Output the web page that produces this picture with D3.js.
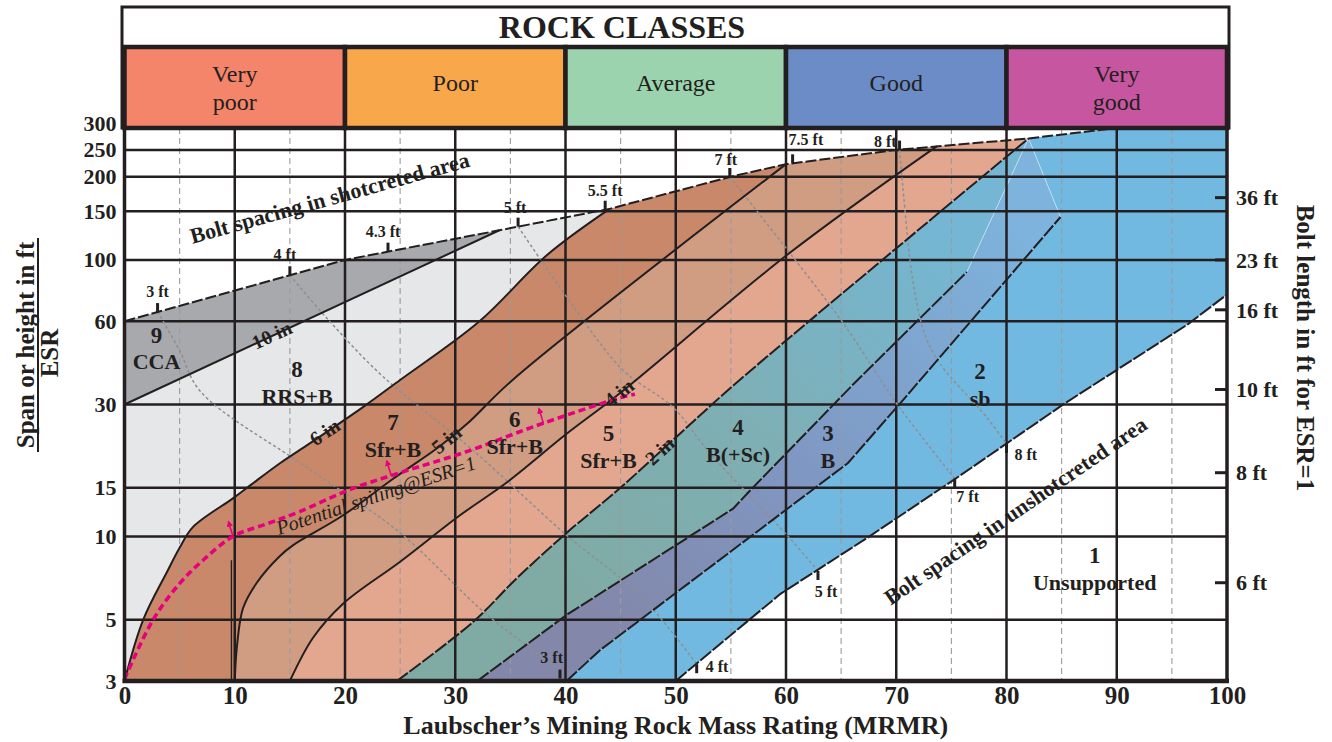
<!DOCTYPE html>
<html>
<head>
<meta charset="utf-8">
<script src="https://cdn.jsdelivr.net/npm/d3@7"></script>
<style>
  body { margin: 0; background: #fff; }
  svg { display: block; font-family: "Liberation Serif", "Times New Roman", serif; }
</style>
</head>
<body>
<svg id="chart" width="1332" height="742"></svg>
<script>
// ---------------- data ----------------
const mrmrTicks = [0, 10, 20, 30, 40, 50, 60, 70, 80, 90, 100];
const mrmrMinorTicks = [5, 15, 25, 35, 45, 55, 65, 75, 85, 95];
const spanTicks = [3, 5, 10, 15, 30, 60, 100, 150, 200, 250, 300];

const classNames = [["Very", "poor"], ["Poor"], ["Average"], ["Good"], ["Very", "good"]];
const classBreaks = [0, 20, 40, 60, 80, 100];
const classColors = ["#f4846a", "#f9a74b", "#9bd3ae", "#6b8cc6", "#c6569f"];

// bolt length (ft, ESR = 1) against span/ESR
const boltLengthFt = [36, 23, 16, 10, 8, 6];
const boltLengthSpan = [168, 100, 66, 34, 17, 6.8];

// boundary lines as [MRMR, span/ESR]
const shotcreteLimit = [[0, 60], [20, 100], [34, 128], [44, 153], [55, 200], [60, 222], [70, 250], [82, 275], [90, 300]];
const line10in = [[0, 30], [34, 128]];
const line6in = [[0, 3], [1.7, 5], [3.9, 7.5], [5, 9.1], [6.2, 10.8], [9.8, 13.7], [11.4, 15.3], [14.1, 18.4],
                 [16.8, 21.7], [21.6, 29.3], [25, 36.8], [32.2, 60], [38.3, 104], [44, 153]];
const line5in = [[10, 3], [10.2, 4], [10.75, 5.5], [12, 6.8], [14.1, 8.5], [15.3, 9.3], [19.8, 11.9], [24.4, 16.2],
                 [28.6, 21.2], [31.1, 25.6], [35.2, 36.8], [60, 222]];
const line4in = [[15, 3], [17.1, 4.3], [19.8, 5.7], [25, 8.1], [30.4, 11.9], [34.7, 15.7], [40.1, 23.5],
                 [44.7, 32.4], [60.2, 105], [73.7, 258]];
const line2in = [[24.7, 3], [31.6, 4.9], [35.6, 7.07], [40.1, 10.3], [44.9, 14.9], [50.1, 23], [55.8, 36.8], [82, 275]];
const boltLimit4 = [[32, 3], [40.1, 5.2], [55.2, 12.6], [56.7, 14.6], [66.1, 35.5], [76.4, 90.4]];
const boltLimit3 = [[40.1, 3], [43.1, 3.87], [65.6, 18.4], [70.3, 30.1], [84.9, 143]];
const unshotcreteLimit = [[50, 3], [59.5, 6.2], [67.4, 9.9], [75.4, 16.2], [85.3, 30.3], [96.5, 58.7], [100, 75]];
const splitLine = [[9.7, 3], [9.7, 8.2]];

// potential spiling line (ESR = 1)
const spilingLine = [[0, 3.05], [2.6, 5], [5.03, 6.78], [7.12, 8.2], [9.84, 10], [12.9, 11.1], [15.9, 12.3],
                     [20.5, 14.8], [25, 17], [31.1, 20.3], [37.05, 24.9], [44.9, 31.7], [46.3, 32.7]];
const spilingArrowsMRMR = [9.84, 24.2, 38];

// bolt spacing contours
const spacingLabels = ["3 ft", "4 ft", "5 ft", "7 ft", "8 ft"];
const spacing3ft = [[3, 65], [5, 47], [6.9, 33.4], [16.8, 17.5], [25, 10.3], [32.9, 5.2], [39.5, 3.3]];
const spacing4ft = [[15, 88], [18.6, 60], [23.4, 38], [31.3, 21], [40.1, 10.1], [46.8, 6.1], [51.9, 3.45]];
const spacing5ft = [[35.7, 132], [40.7, 68], [45.2, 40], [49.75, 29.3], [53.1, 20], [60.1, 10.1], [62.9, 7.5]];
const spacing7ft = [[54.9, 200], [60.1, 109], [65.2, 59], [70.1, 30], [75.3, 16.2]];
const spacing8ft = [[70.3, 250], [70.6, 183], [71.5, 84.5], [72.6, 53.7], [74, 42], [78.2, 27], [80, 21.6]];

// bolt spacing marks along the shotcrete limit
const topSpacingLabels = ["3 ft", "4 ft", "4.3 ft", "5 ft", "5.5 ft", "7 ft", "7.5 ft", "8 ft"];
const topSpacingMRMR = [3, 15, 23.9, 35.7, 43.6, 54.9, 60.6, 70.3];

// support class labels
const classNumbers = ["9", "8", "7", "6", "5", "4", "3", "2", "1"];
const classSupport = ["CCA", "RRS+B", "Sfr+B", "Sfr+B", "Sfr+B", "B(+Sc)", "B", "sb", "Unsupported"];
const classLabelMRMR = [2.9, 15.65, 24.35, 35.4, 43.9, 55.65, 63.8, 77.6, 88.0];
const classLabelSpan = [53.7, 40.3, 25.9, 26.6, 23.7, 24.9, 23.7, 39.7, 8.55];

// shotcrete thickness labels
const thicknessLabels = ["10 in", "6 in", "5 in", "4 in", "2 in"];
const thicknessMRMR = [13.4, 18.2, 29.25, 44.9, 48.6];

// ---------------- setup ----------------
const svg = d3.select("#chart");
const ink = "#231f20";
const x = d3.scaleLinear().domain([0, 100]).range([124.5, 1227]);
const y = d3.scaleLog().domain([3, 300]).range([681, 128]);
const X0 = x(0), X1 = x(100), YB = y(3), YT = y(300);

const defs = svg.append("defs");
defs.append("clipPath").attr("id", "plotClip")
  .append("rect").attr("x", X0).attr("y", YT).attr("width", X1 - X0).attr("height", YB - YT);

function grad(id, p0, p1, stops) {
  const g = defs.append("linearGradient").attr("id", id).attr("gradientUnits", "userSpaceOnUse")
    .attr("x1", x(p0[0])).attr("y1", y(p0[1])).attr("x2", x(p1[0])).attr("y2", y(p1[1]));
  stops.forEach(s => g.append("stop").attr("offset", s[0]).attr("stop-color", s[1]));
}
grad("fill4", [42, 6], [74, 130], [[0, "#80aba5"], [0.45, "#7eafb4"], [1, "#74b6d3"]]);
grad("fill3", [45, 4], [80, 140], [[0, "#8387aa"], [0.45, "#7f98c3"], [1, "#7db3dc"]]);

defs.append("marker").attr("id", "pinkHead").attr("viewBox", "0 0 10 10")
  .attr("refX", 5).attr("refY", 5).attr("markerWidth", 4).attr("markerHeight", 4).attr("orient", "auto")
  .append("path").attr("d", "M0,0 L10,5 L0,10 z").attr("fill", "#e6007e");

const straight = d3.line().x(d => x(d[0])).y(d => y(d[1]));
const smooth = d3.line().x(d => x(d[0])).y(d => y(d[1])).curve(d3.curveCatmullRom.alpha(0.5));
const rev = a => a.slice().reverse();

function spanAt(line, m) {
  if (m <= line[0][0]) return line[0][1];
  if (m >= line[line.length - 1][0]) return line[line.length - 1][1];
  for (let i = 0; i < line.length - 1; i++) {
    const a = line[i], b = line[i + 1];
    if (m >= a[0] && m <= b[0]) {
      const t = (m - a[0]) / (b[0] - a[0]);
      return Math.exp(Math.log(a[1]) + t * (Math.log(b[1]) - Math.log(a[1])));
    }
  }
}
function angleAt(line, m) {
  const d = 0.8;
  const a = [x(m - d), y(spanAt(line, m - d))], b = [x(m + d), y(spanAt(line, m + d))];
  return Math.atan2(b[1] - a[1], b[0] - a[0]) * 180 / Math.PI;
}
function topBetween(m0, m1) {
  return [[m0, spanAt(shotcreteLimit, m0)],
          ...shotcreteLimit.filter(p => p[0] > m0 && p[0] < m1),
          [m1, m1 > 90 ? 300 : spanAt(shotcreteLimit, m1)]];
}
function poly(parts) {
  return parts.map((p, i) => {
    const s = (p[1] ? smooth : straight)(p[0]);
    return i ? s.replace(/^M/, "L") : s;
  }).join("") + "Z";
}

// ---------------- support regions ----------------
const apex = line2in[line2in.length - 1];
const end4 = boltLimit4[boltLimit4.length - 1];
const end3 = boltLimit3[boltLimit3.length - 1];

const regions = [
  { fill: "#e6e7e8", d: poly([[[[0, 3], [0, 30]], 0], [line10in, 0], [topBetween(34, 44), 0], [rev(line6in), 1]]) },
  { fill: "#a7a9ac", d: poly([[[[0, 30], [0, 60]], 0], [topBetween(0, 34), 0], [rev(line10in), 0]]) },
  { fill: "#c98869", d: poly([[line6in, 1], [topBetween(44, 60), 0], [rev(line5in), 1]]) },
  { fill: "#d09c82", d: poly([[line5in, 1], [topBetween(60, 73.7), 0], [rev(line4in), 1]]) },
  { fill: "#e3a78f", d: poly([[line4in, 1], [topBetween(73.7, 82), 0], [rev(line2in), 1]]) },
  { fill: "url(#fill4)", d: poly([[line2in, 1], [[apex, end4], 0], [rev(boltLimit4), 0]]) },
  { fill: "url(#fill3)", d: poly([[boltLimit4, 0], [[end4, apex, end3], 0], [rev(boltLimit3), 0]]) },
  { fill: "#72b9e1", d: poly([[boltLimit3, 0], [[end3, apex], 0], [topBetween(82, 100), 0],
                              [[[100, 300], [100, 75]], 0], [rev(unshotcreteLimit), 0]]) }
];

const plot = svg.append("g").attr("clip-path", "url(#plotClip)");
plot.selectAll("path.region").data(regions).join("path")
  .attr("class", "region").attr("d", d => d.d).attr("fill", d => d.fill);

// faint edges of the overlap wedge
plot.append("path").attr("d", straight([end4, apex, end3]))
  .attr("fill", "none").attr("stroke", "#ffffff").attr("stroke-opacity", 0.45).attr("stroke-width", 1);

// ---------------- grid ----------------
plot.selectAll("line.minor").data(mrmrMinorTicks).join("line").attr("class", "minor")
  .attr("x1", d => x(d)).attr("x2", d => x(d)).attr("y1", YT).attr("y2", YB)
  .attr("stroke", "#9a9b9d").attr("stroke-width", 1.1).attr("stroke-dasharray", "6,4");
plot.selectAll("line.vgrid").data(mrmrTicks.slice(1, -1)).join("line").attr("class", "vgrid")
  .attr("x1", d => x(d)).attr("x2", d => x(d)).attr("y1", YT).attr("y2", YB)
  .attr("stroke", ink).attr("stroke-width", 2.5);
plot.selectAll("line.hgrid").data(spanTicks.slice(1, -1)).join("line").attr("class", "hgrid")
  .attr("x1", X0).attr("x2", X1).attr("y1", d => y(d)).attr("y2", d => y(d))
  .attr("stroke", ink).attr("stroke-width", 2.5);

// ---------------- bolt spacing contours ----------------
const spacingLines = [spacing3ft, spacing4ft, spacing5ft, spacing7ft, spacing8ft];
plot.selectAll("path.spacing").data(spacingLines).join("path").attr("class", "spacing")
  .attr("d", d => smooth(d)).attr("fill", "none")
  .attr("stroke", "#8d8f92").attr("stroke-width", 1.5).attr("stroke-dasharray", "3,2.5");

// ---------------- boundaries ----------------
const boundaries = [
  { pts: shotcreteLimit, s: 0, dash: "11,3" },
  { pts: line10in, s: 0, dash: null },
  { pts: line6in, s: 1, dash: null },
  { pts: line5in, s: 1, dash: null },
  { pts: line4in, s: 1, dash: null },
  { pts: line2in, s: 1, dash: "14,2" },
  { pts: boltLimit4, s: 0, dash: "14,2" },
  { pts: boltLimit3, s: 0, dash: "14,2" },
  { pts: unshotcreteLimit, s: 0, dash: "14,2" }
];
plot.selectAll("path.bound").data(boundaries).join("path").attr("class", "bound")
  .attr("d", d => (d.s ? smooth : straight)(d.pts)).attr("fill", "none")
  .attr("stroke", ink).attr("stroke-width", 2).attr("stroke-dasharray", d => d.dash);
plot.append("path").attr("d", straight(splitLine)).attr("stroke", ink).attr("stroke-width", 1.4);

// ---------------- spacing marks ----------------
const topPlace = [
  { a: "middle", dx: 0, dy: -15 }, { a: "middle", dx: -5, dy: -15 }, { a: "middle", dx: -5, dy: -15 },
  { a: "middle", dx: -3, dy: -14 }, { a: "middle", dx: 0, dy: -14 }, { a: "middle", dx: -4, dy: -12 },
  { a: "start", dx: -4, dy: -18 }, { a: "end", dx: -3, dy: -3 }
];
const marks = svg.append("g");
topSpacingMRMR.forEach((m, i) => {
  const px = x(m), py = y(spanAt(shotcreteLimit, m));
  marks.append("line").attr("x1", px).attr("x2", px).attr("y1", py).attr("y2", py - 9)
    .attr("stroke", ink).attr("stroke-width", 3);
  marks.append("text").attr("x", px + topPlace[i].dx).attr("y", py + topPlace[i].dy)
    .attr("text-anchor", topPlace[i].a).attr("font-size", 16).attr("font-weight", "bold")
    .attr("fill", ink).text(topSpacingLabels[i]);
});
const bottomPlace = [
  { a: "end", dx: 3, dy: -7 }, { a: "start", dx: 9, dy: 8 }, { a: "middle", dx: 8, dy: 26 },
  { a: "middle", dx: 13, dy: 24 }, { a: "start", dx: 8, dy: 16 }
];
spacingLines.forEach((pts, i) => {
  const p = pts[pts.length - 1], px = x(p[0]), py = y(p[1]);
  marks.append("line").attr("x1", px).attr("x2", px).attr("y1", py).attr("y2", py + 9)
    .attr("stroke", ink).attr("stroke-width", 3);
  marks.append("text").attr("x", px + bottomPlace[i].dx).attr("y", py + bottomPlace[i].dy)
    .attr("text-anchor", bottomPlace[i].a).attr("font-size", 16).attr("font-weight", "bold")
    .attr("fill", ink).text(spacingLabels[i]);
});

// ---------------- potential spiling ----------------
plot.append("path").attr("d", smooth(spilingLine)).attr("fill", "none")
  .attr("stroke", "#e6007e").attr("stroke-width", 3.6).attr("stroke-dasharray", "7,4");
spilingArrowsMRMR.forEach(m => {
  const px = x(m), py = y(spanAt(spilingLine, m));
  plot.append("line").attr("x1", px).attr("y1", py).attr("x2", px - 4).attr("y2", py - 13)
    .attr("stroke", "#e6007e").attr("stroke-width", 1.6).attr("marker-end", "url(#pinkHead)");
});

// ---------------- labels in plot ----------------
const lab = svg.append("g").attr("fill", ink).attr("font-weight", "bold").attr("text-anchor", "middle");
classNumbers.forEach((n, i) => {
  const px = x(classLabelMRMR[i]), py = y(classLabelSpan[i]);
  lab.append("text").attr("x", px).attr("y", py).attr("dy", "0.35em").attr("font-size", 23).text(n);
  lab.append("text").attr("x", px).attr("y", py + 27).attr("dy", "0.35em").attr("font-size", 22).text(classSupport[i]);
});

const thicknessLines = [line10in, line6in, line5in, line4in, line2in];
thicknessLabels.forEach((t, i) => {
  const m = thicknessMRMR[i], ln = thicknessLines[i];
  const px = x(m), py = y(spanAt(ln, m)), ang = angleAt(ln, m);
  lab.append("text").attr("transform", `translate(${px},${py}) rotate(${ang})`)
    .attr("dy", "0.3em").attr("font-size", 20).text(t);
});

function alongText(txt, line, m, s, size, italic) {
  const ang = angleAt(line, m);
  lab.append("text").attr("transform", `translate(${x(m)},${y(s)}) rotate(${ang})`)
    .attr("dy", "0.35em").attr("font-size", size)
    .attr("font-style", italic ? "italic" : null).attr("font-weight", italic ? "normal" : "bold")
    .text(txt);
}
alongText("Bolt spacing in shotcreted area", shotcreteLimit, 18.6, 168, 22, false);
alongText("Bolt spacing in unshotcreted area", unshotcreteLimit, 80.8, 12.4, 22, false);
alongText("Potential spiling@ESR=1", spilingLine, 22.8, 14.1, 20, true);

// ---------------- frame ----------------
svg.append("rect").attr("x", X0).attr("y", YT).attr("width", X1 - X0).attr("height", YB - YT)
  .attr("fill", "none").attr("stroke", ink).attr("stroke-width", 3.5);
svg.append("line").attr("x1", X0 - 2).attr("x2", X1 + 2).attr("y1", YB).attr("y2", YB)
  .attr("stroke", ink).attr("stroke-width", 4.5);

// ---------------- header ----------------
const head = svg.append("g");
head.append("rect").attr("x", 122).attr("y", 7).attr("width", 1107).attr("height", YT - 7)
  .attr("fill", "#fff").attr("stroke", ink).attr("stroke-width", 3);
head.append("text").attr("x", 622).attr("y", 27).attr("dy", "0.35em").attr("text-anchor", "middle")
  .attr("font-size", 32).attr("font-weight", "bold").attr("fill", ink).text("ROCK CLASSES");
classNames.forEach((nm, i) => {
  const a = x(classBreaks[i]), b = x(classBreaks[i + 1]);
  head.append("rect").attr("x", a).attr("y", 47).attr("width", b - a).attr("height", YT - 47)
    .attr("fill", classColors[i]).attr("stroke", ink).attr("stroke-width", 4.5);
  const cy = nm.length > 1 ? (47 + YT) / 2 : 83;
  nm.forEach((w, j) => {
    head.append("text").attr("x", (a + b) / 2).attr("y", cy + (j - (nm.length - 1) / 2) * 28)
      .attr("dy", "0.35em").attr("text-anchor", "middle").attr("font-size", 24).attr("fill", ink).text(w);
  });
});

// ---------------- axes ----------------
const xAxis = svg.append("g").attr("transform", `translate(0,${YB})`)
  .call(d3.axisBottom(x).tickValues(mrmrTicks).tickSize(0).tickPadding(5).tickFormat(d3.format("d")));
xAxis.select(".domain").remove();
xAxis.selectAll("text").attr("font-size", 25).attr("font-weight", "bold").attr("fill", ink)
  .attr("font-family", "Liberation Serif");

const yAxis = svg.append("g").attr("transform", `translate(${X0},0)`)
  .call(d3.axisLeft(y).tickValues(spanTicks).tickSize(0).tickPadding(8).tickFormat(d3.format("d")));
yAxis.select(".domain").remove();
yAxis.selectAll("text").attr("font-size", 22).attr("font-weight", "bold").attr("fill", ink)
  .attr("font-family", "Liberation Serif");
// the top two labels sit close together; lift the topmost a little
yAxis.selectAll(".tick").filter(d => d === 300).select("text").attr("dy", "0.12em");

// bolt length marks on the right edge
const rAxis = svg.append("g");
boltLengthFt.forEach((ft, i) => {
  const py = y(boltLengthSpan[i]);
  rAxis.append("line").attr("x1", X1 - 12).attr("x2", X1).attr("y1", py).attr("y2", py)
    .attr("stroke", ink).attr("stroke-width", 3);
  rAxis.append("text").attr("x", X1 + 9).attr("y", py).attr("dy", "0.35em")
    .attr("font-size", 22).attr("font-weight", "bold").attr("fill", ink).text(ft + " ft");
});

// axis titles
svg.append("text").attr("x", (X0 + X1) / 2).attr("y", 725).attr("dy", "0.35em").attr("text-anchor", "middle")
  .attr("font-size", 26).attr("font-weight", "bold").attr("fill", ink)
  .text("Laubscher\u2019s Mining Rock Mass Rating (MRMR)");

const yt = svg.append("g").attr("transform", "translate(37,345) rotate(-90)")
  .attr("fill", ink).attr("font-weight", "bold").attr("font-size", 25).attr("text-anchor", "middle");
yt.append("text").attr("x", 0).attr("y", -3).text("Span or height in ft");
yt.append("line").attr("x1", -107).attr("x2", 107).attr("y1", 1).attr("y2", 1).attr("stroke", ink).attr("stroke-width", 2);
yt.append("text").attr("x", -8).attr("y", 21).text("ESR");

svg.append("text").attr("transform", "translate(1297,348) rotate(90)").attr("text-anchor", "middle")
  .attr("font-size", 25).attr("font-weight", "bold").attr("fill", ink).text("Bolt length in ft for ESR=1");
</script>
</body>
</html>
